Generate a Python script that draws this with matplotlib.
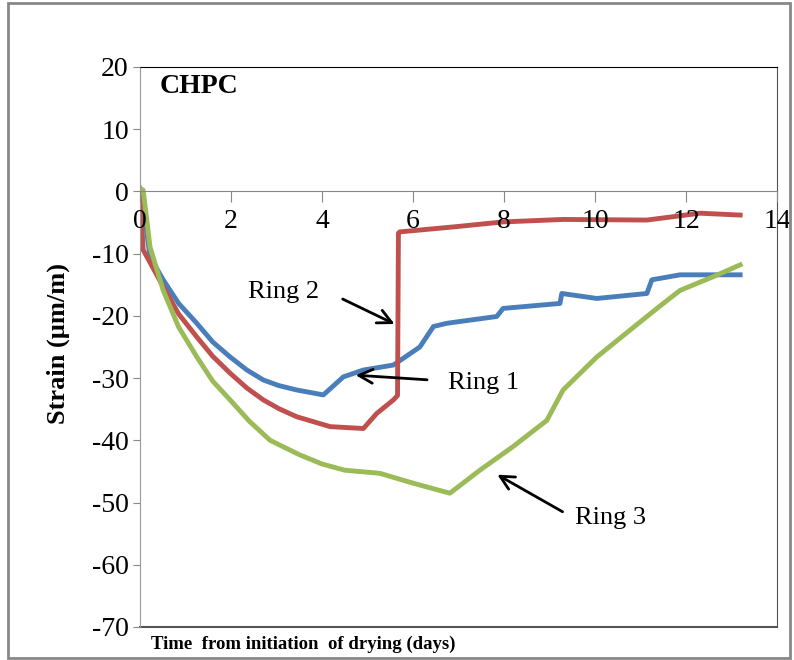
import matplotlib
matplotlib.use("Agg")
import matplotlib.pyplot as plt
from matplotlib.patches import Rectangle

plt.rcParams['font.family'] = ['Liberation Serif', 'DejaVu Serif']
plt.rcParams['axes.unicode_minus'] = False

# Ring 1 (bleu)
ring1_x = [0, 0.03, 0.22, 0.51, 0.85, 1.25, 1.6, 1.98, 2.35, 2.71, 3.05, 3.44, 4.03, 4.47, 4.91, 5.57, 6.15, 6.45,
           6.74, 7.03, 7.84, 7.98, 9.23, 9.27, 10.04, 11.14, 11.25, 11.87, 13.19]
ring1_y = [0.5, 0, -10.5, -14.2, -18.0, -21.2, -24.2, -26.6, -28.7, -30.3, -31.2, -31.9, -32.7, -29.8, -28.7, -27.9, -25.0, -21.7,
           -21.2, -20.9, -20.1, -18.8, -18.0, -16.4, -17.2, -16.4, -14.2, -13.4, -13.4]

# Ring 2 (rouge)
ring2_x = [0, 0.07, 0.51, 0.85, 1.25, 1.6, 1.98, 2.35, 2.71, 3.05, 3.44, 4.18, 4.91, 5.20, 5.57, 5.66, 5.68, 5.71,
           6.89, 7.98, 9.30, 11.14, 12.31, 13.19]
ring2_y = [0, -9.4, -15.3, -19.7, -23.4, -26.5, -29.2, -31.6, -33.5, -34.9, -36.2, -37.8, -38.1, -35.7, -33.5, -32.8, -6.7, -6.5,
           -5.7, -4.9, -4.5, -4.6, -3.5, -3.8]

# Ring 3 (vert)
ring3_x = [0, 0.07, 0.22, 0.51, 0.85, 1.25, 1.6, 1.98, 2.4, 2.86, 3.5, 4.0, 4.5, 5.27, 6.01, 6.81, 7.47, 8.20,
           8.94, 9.30, 10.04, 11.14, 11.50, 11.87, 12.60, 13.19]
ring3_y = [0.5, 0.2, -8.9, -15.9, -21.8, -26.6, -30.5, -33.5, -36.9, -40.0, -42.3, -43.8, -44.8, -45.3, -46.9, -48.5, -44.8, -41.0,
           -36.8, -31.9, -26.6, -20.1, -18.0, -15.9, -13.7, -11.8]

x_ticks = [0, 2, 4, 6, 8, 10, 12, 14]
y_ticks = [20, 10, 0, -10, -20, -30, -40, -50, -60, -70]

fig = plt.figure(figsize=(7.94, 6.6), dpi=100)
ax = fig.add_axes([0.1763, 0.05, 0.8023, 0.8485])

ax.plot(ring1_x, ring1_y, color='#4A7EBB', lw=3.5)
ax.plot(ring2_x, ring2_y, color='#C0504D', lw=3.5)
ax.plot(ring3_x, ring3_y, color='#9BBB59', lw=3.5)

ax.set_xlim(0, 14)
ax.set_ylim(-70, 20)
ax.set_xticks(x_ticks)
ax.set_yticks(y_ticks)
ax.set_axisbelow(False)

# axe x au niveau de y = 0
ax.spines['bottom'].set_position(('data', 0))
ax.spines['bottom'].set_color('#888888')
ax.spines['left'].set_color('#999999')
ax.spines['top'].set_color('black')
ax.spines['right'].set_color('#555555')
ax.plot([0, 14], [-70, -70], color='#555555', lw=1.5, clip_on=False)

ax.tick_params(axis='x', direction='out', length=8, color='#888888', labelsize=20, pad=5)
ax.tick_params(axis='y', direction='out', length=5, color='#888888', labelsize=20, pad=3)

ax.text(0.44, 16.8, 'CHPC', fontsize=20, fontweight='bold', va='center')

arrow = dict(arrowstyle='->', color='black', lw=2, mutation_scale=25)
ax.annotate('', xy=(5.65, -21.5), xytext=(4.40, -17.1), arrowprops=arrow)
ax.text(3.16, -16.2, 'Ring 2', fontsize=19, ha='center', va='center')
ax.annotate('', xy=(4.68, -29.5), xytext=(6.37, -30.3), arrowprops=arrow)
ax.text(6.77, -30.8, 'Ring 1', fontsize=19, ha='left', va='center')
ax.annotate('', xy=(7.80, -45.3), xytext=(9.34, -51.7), arrowprops=arrow)
ax.text(9.56, -52.5, 'Ring 3', fontsize=19, ha='left', va='center')

fig.text(0.382, 0.023, 'Time  from initiation  of drying (days)', fontsize=13.5,
         fontweight='bold', ha='center', va='center')
fig.text(0.073, 0.48, 'Strain (µm/m)', fontsize=19, fontweight='bold',
         rotation=90, ha='center', va='center')

# cadre autour de la figure
fig.patches.append(Rectangle((0.01, 0.003), 0.985, 0.992, transform=fig.transFigure,
                             fill=False, edgecolor='#888888', lw=2))

fig.savefig('out.png', dpi=100)
